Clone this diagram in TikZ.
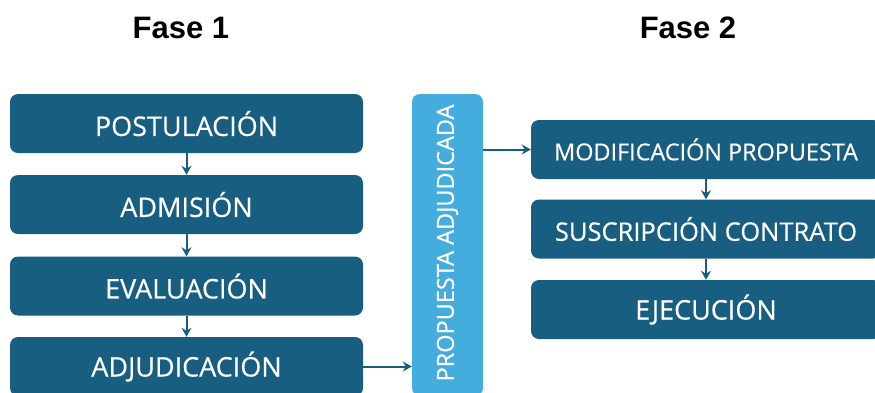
\documentclass[tikz,border=0pt]{standalone}
\usepackage{fontspec}
\setmainfont{Open Sans}
\newfontfamily\boxfont{Open Sans}[FakeBold=0.4]
\newfontfamily\titlefont{Liberation Sans}
\usetikzlibrary{arrows.meta}
\definecolor{fasedark}{HTML}{175E80}
\definecolor{faselight}{HTML}{45ADDE}
\begin{document}
\begin{tikzpicture}[
        x=1pt, y=-1pt,
        stage/.style={rectangle, fill=fasedark, rounded corners=8pt, text=white, minimum height=59pt, font=\boxfont\fontsize{27}{30}\selectfont, inner sep=0pt},
        leftstage/.style={stage, minimum width=353pt},
        rightstage/.style={stage, minimum width=350pt},
        bar/.style={rectangle, fill=faselight, rounded corners=8pt, minimum width=71pt, minimum height=302pt},
        title/.style={font=\titlefont\bfseries\fontsize{31}{34}\selectfont},
        arrow/.style={-{Stealth[length=9pt, width=10pt]}, line width=2pt, fasedark}
    ]
    \useasboundingbox (0,0) rectangle (875,392);
    \clip (0,0) rectangle (875,392);
    % Titles
    \node[title] (fase1) at (181,28) {Fase 1};
    \node[title] (fase2) at (688,28) {Fase 2};

    % Fase 1
    \node (postulacion) at (186.5,123.5) [leftstage] {POSTULACIÓN};
    \node (admision) at (186.5,204.5) [leftstage] {ADMISIÓN};
    \node (evaluacion) at (186.5,286) [leftstage] {EVALUACIÓN};
    \node (adjudicacion) at (186.5,366.5) [leftstage] {ADJUDICACIÓN};
    \draw[arrow] (postulacion) -- (admision);
    \draw[arrow] (admision) -- (evaluacion);
    \draw[arrow] (evaluacion) -- (adjudicacion);

    % Propuesta adjudicada
    \node (propuesta) at (447.5,245) [bar] {};
    \node (propuestatxt) at (447.5,243) [rotate=90, text=white, font=\boxfont\fontsize{23.5}{26}\selectfont] {PROPUESTA ADJUDICADA};
    \draw[arrow] (adjudicacion.east) -- (adjudicacion.east -| propuesta.west);

    % Fase 2
    \node (modificacion) at (706,149.5) [rightstage, font=\boxfont\fontsize{23.4}{26}\selectfont] {MODIFICACIÓN PROPUESTA};
    \node (suscripcion) at (706,229) [rightstage, font=\boxfont\fontsize{25.5}{28}\selectfont] {SUSCRIPCIÓN CONTRATO};
    \node (ejecucion) at (706,309.5) [rightstage] {EJECUCIÓN};
    \draw[arrow] (modificacion.west -| propuesta.east) -- (modificacion.west);
    \draw[arrow] (modificacion) -- (suscripcion);
    \draw[arrow] (suscripcion) -- (ejecucion);
\end{tikzpicture}
\end{document}
